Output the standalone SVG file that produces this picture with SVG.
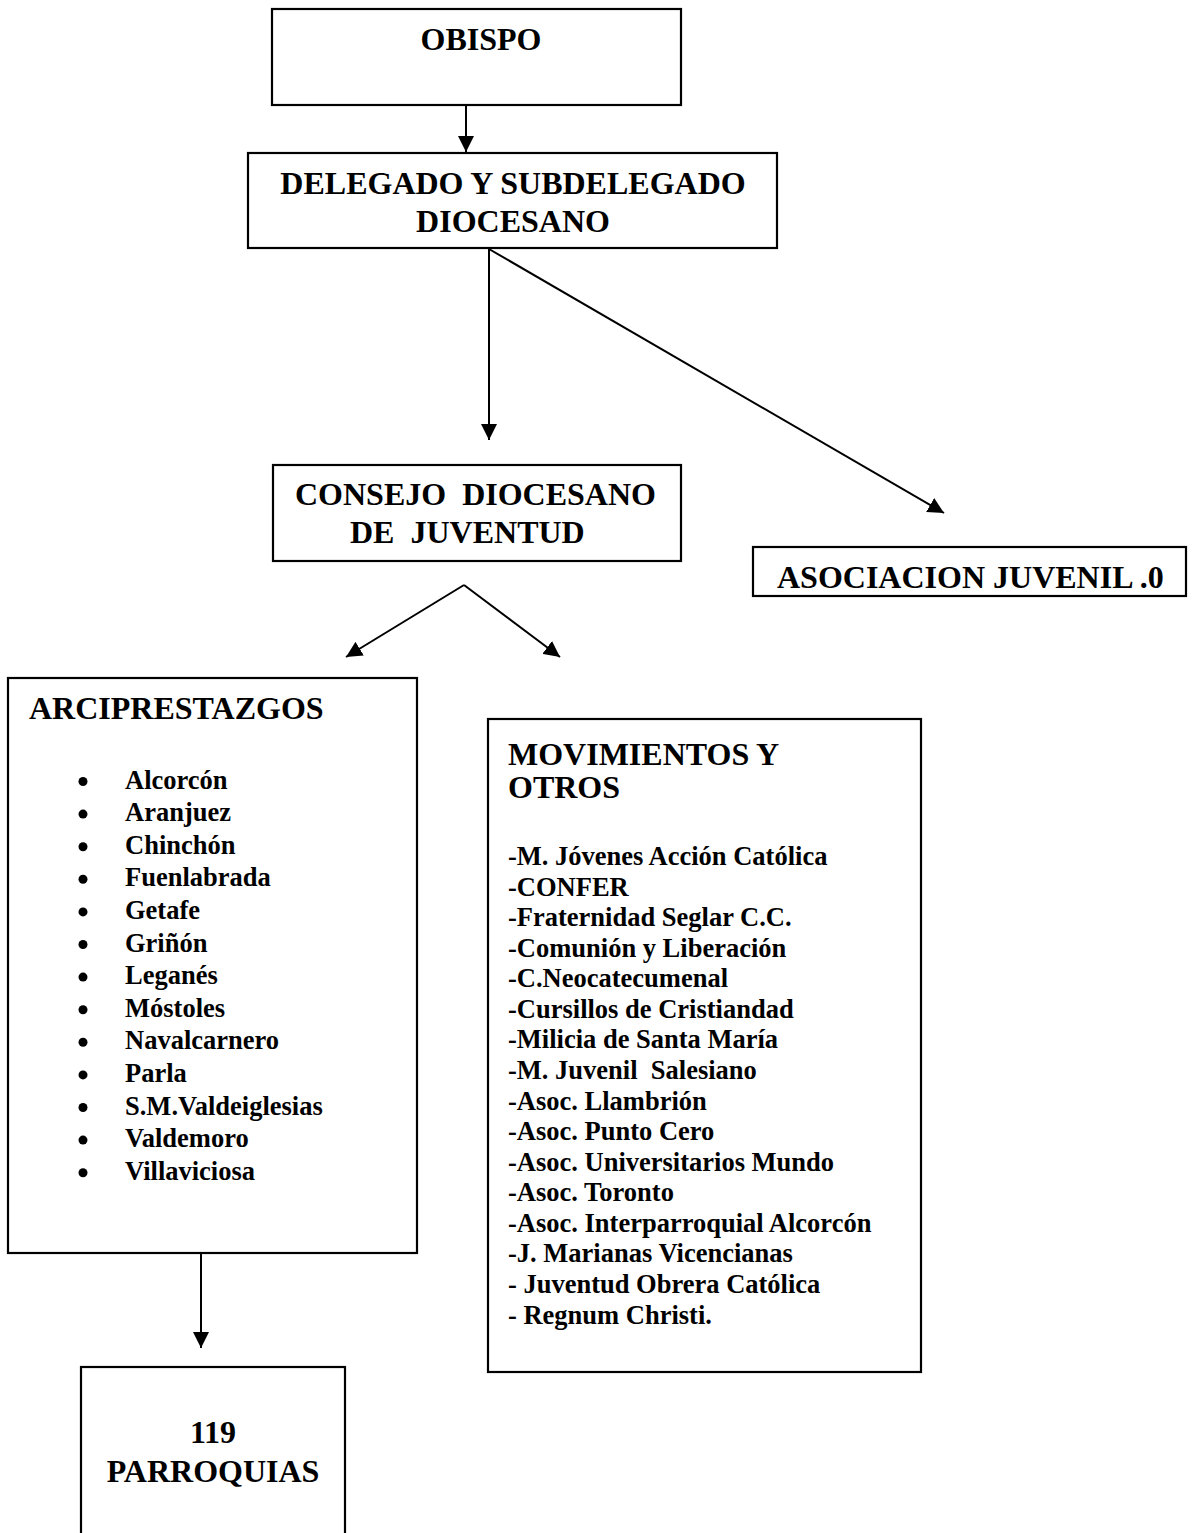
<svg xmlns="http://www.w3.org/2000/svg" width="1194" height="1533" viewBox="0 0 1194 1533">
<style>
.box{fill:#fff;stroke:#000;stroke-width:2.2}
.h{font-family:"Liberation Serif","Times New Roman",serif;font-weight:bold;font-size:32px;fill:#000}
.t{font-family:"Liberation Serif","Times New Roman",serif;font-weight:bold;font-size:26.5px;fill:#000}
.c{text-anchor:middle}
.ln{stroke:#000;stroke-width:2;fill:none}
</style>
<defs>
<marker id="ah" viewBox="0 0 10 10" refX="10" refY="5" markerWidth="16" markerHeight="16" markerUnits="userSpaceOnUse" orient="auto">
<path d="M0,0 L10,5 L0,10 z" fill="#000"/>
</marker>
<clipPath id="asocClip"><rect x="753" y="566" width="433" height="32"/></clipPath>
</defs>
<rect width="1194" height="1533" fill="#fff"/>
<g id="connectors">
<line class="ln" x1="466" y1="105" x2="466" y2="152" marker-end="url(#ah)"/>
<line class="ln" x1="489" y1="249" x2="489" y2="440" marker-end="url(#ah)"/>
<line class="ln" x1="489" y1="249" x2="944" y2="513" marker-end="url(#ah)"/>
<line class="ln" x1="464" y1="585" x2="346" y2="657" marker-end="url(#ah)"/>
<line class="ln" x1="464" y1="585" x2="560" y2="657" marker-end="url(#ah)"/>
<line class="ln" x1="201" y1="1253" x2="201" y2="1348" marker-end="url(#ah)"/>
</g>
<g id="obispo">
<rect class="box" x="272" y="9" width="409" height="96"/>
<text class="h c" x="481" y="50">OBISPO</text>
</g>
<g id="delegado">
<rect class="box" x="248" y="153" width="529" height="95"/>
<text class="h c" x="513" y="194">DELEGADO Y SUBDELEGADO</text>
<text class="h c" x="513" y="232">DIOCESANO</text>
</g>
<g id="consejo">
<rect class="box" x="273" y="465" width="408" height="96"/>
<text class="h" x="295" y="505" xml:space="preserve">CONSEJO  DIOCESANO</text>
<text class="h" x="350" y="543" xml:space="preserve">DE  JUVENTUD</text>
</g>
<g id="asociacion">
<rect class="box" x="753" y="547" width="433" height="49"/>
<text class="h" x="777" y="588" clip-path="url(#asocClip)">ASOCIACIÓN JUVENIL .0</text>
</g>
<g id="arciprestazgos">
<rect class="box" x="8" y="678" width="409" height="575"/>
<text class="h" x="29" y="719">ARCIPRESTAZGOS</text>
<g fill="#000">
<circle cx="83" cy="781.5" r="4.5"/>
<circle cx="83" cy="814.1" r="4.5"/>
<circle cx="83" cy="846.7" r="4.5"/>
<circle cx="83" cy="879.3" r="4.5"/>
<circle cx="83" cy="911.9" r="4.5"/>
<circle cx="83" cy="944.5" r="4.5"/>
<circle cx="83" cy="977.1" r="4.5"/>
<circle cx="83" cy="1009.7" r="4.5"/>
<circle cx="83" cy="1042.3" r="4.5"/>
<circle cx="83" cy="1074.9" r="4.5"/>
<circle cx="83" cy="1107.5" r="4.5"/>
<circle cx="83" cy="1140.1" r="4.5"/>
<circle cx="83" cy="1172.7" r="4.5"/>
</g>
<text class="t" x="125" y="788.5">Alcorcón</text>
<text class="t" x="125" y="821.1">Aranjuez</text>
<text class="t" x="125" y="853.7">Chinchón</text>
<text class="t" x="125" y="886.3">Fuenlabrada</text>
<text class="t" x="125" y="918.9">Getafe</text>
<text class="t" x="125" y="951.5">Griñón</text>
<text class="t" x="125" y="984.1">Leganés</text>
<text class="t" x="125" y="1016.7">Móstoles</text>
<text class="t" x="125" y="1049.3">Navalcarnero</text>
<text class="t" x="125" y="1081.9">Parla</text>
<text class="t" x="125" y="1114.5">S.M.Valdeiglesias</text>
<text class="t" x="125" y="1147.1">Valdemoro</text>
<text class="t" x="125" y="1179.7">Villaviciosa</text>
</g>
<g id="movimientos">
<rect class="box" x="488" y="719" width="433" height="653"/>
<text class="h" x="508" y="765">MOVIMIENTOS Y</text>
<text class="h" x="508" y="798">OTROS</text>
<text class="t" x="508" y="865">-M. Jóvenes Acción Católica</text>
<text class="t" x="508" y="895.6">-CONFER</text>
<text class="t" x="508" y="926.1">-Fraternidad Seglar C.C.</text>
<text class="t" x="508" y="956.7">-Comunión y Liberación</text>
<text class="t" x="508" y="987.3">-C.Neocatecumenal</text>
<text class="t" x="508" y="1017.9">-Cursillos de Cristiandad</text>
<text class="t" x="508" y="1048.4">-Milicia de Santa María</text>
<text class="t" x="508" y="1079" xml:space="preserve">-M. Juvenil  Salesiano</text>
<text class="t" x="508" y="1109.6">-Asoc. Llambrión</text>
<text class="t" x="508" y="1140.1">-Asoc. Punto Cero</text>
<text class="t" x="508" y="1170.7">-Asoc. Universitarios Mundo</text>
<text class="t" x="508" y="1201.3">-Asoc. Toronto</text>
<text class="t" x="508" y="1231.8">-Asoc. Interparroquial Alcorcón</text>
<text class="t" x="508" y="1262.4">-J. Marianas Vicencianas</text>
<text class="t" x="508" y="1293">- Juventud Obrera Católica</text>
<text class="t" x="508" y="1323.6">- Regnum Christi.</text>
</g>
<g id="parroquias">
<rect class="box" x="81" y="1367" width="264" height="200"/>
<text class="h c" x="213" y="1443">119</text>
<text class="h c" x="213" y="1482">PARROQUIAS</text>
</g>
</svg>
